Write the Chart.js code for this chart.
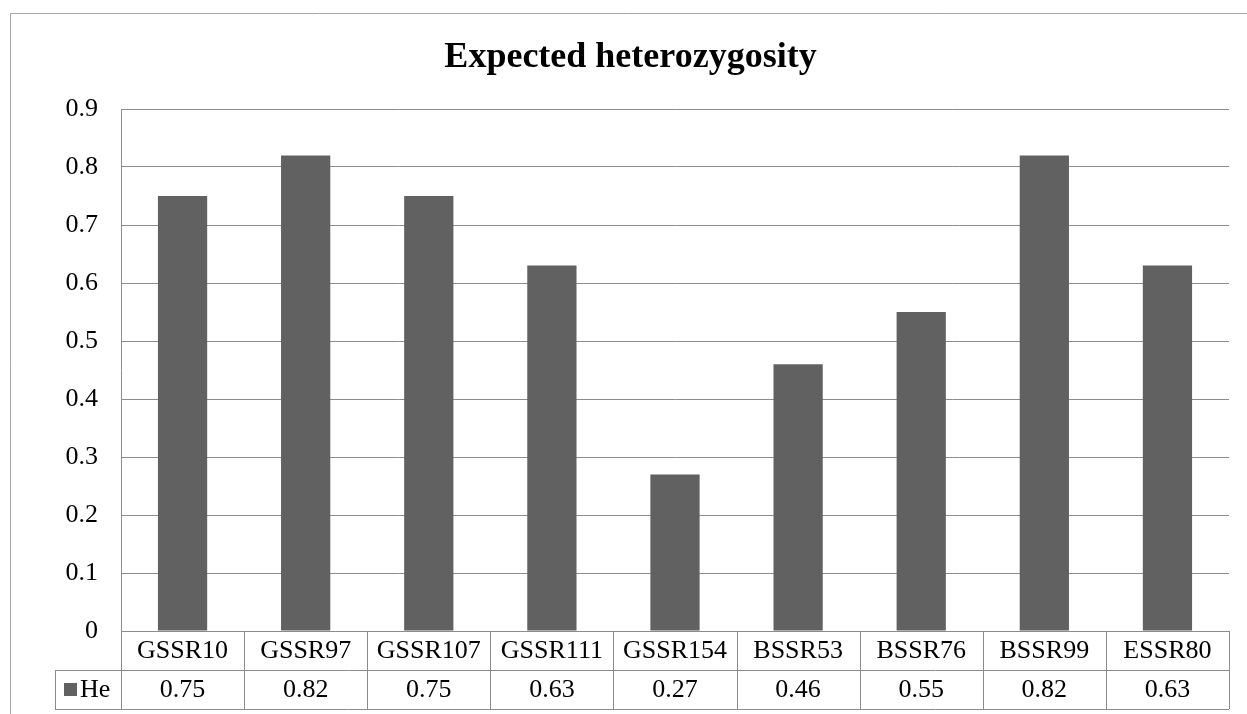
<!DOCTYPE html>
<html>
<head>
<meta charset="utf-8">
<script src="https://cdn.jsdelivr.net/npm/chart.js@4"></script>
<style>
  html, body { margin: 0; padding: 0; background: #fff; }
  #wrap { width: 1247px; height: 714px; position: relative; }
</style>
</head>
<body>
<div id="wrap"><canvas id="grafica"></canvas></div>
<script>
const categories = ['GSSR10', 'GSSR97', 'GSSR107', 'GSSR111', 'GSSR154', 'BSSR53', 'BSSR76', 'BSSR99', 'ESSR80'];
const heValues = [0.75, 0.82, 0.75, 0.63, 0.27, 0.46, 0.55, 0.82, 0.63];
const heLabels = ['0.75', '0.82', '0.75', '0.63', '0.27', '0.46', '0.55', '0.82', '0.63'];
const seriesName = 'He';
const chartTitle = 'Expected heterozygosity';

const serif = '"Liberation Serif", "Times New Roman", serif';
const lineGray = '#8c8c8c';
const barGray = '#616161';

// border, title and the data table under the plot
const tablaPlugin = {
  id: 'tabla',
  afterDraw(chart) {
    const { ctx, chartArea, scales } = chart;
    const x = scales.x;
    const n = categories.length;
    const colW = (chartArea.right - chartArea.left) / n;
    const top = chartArea.bottom;
    const row1 = top + 39;
    const row2 = top + 78;
    const legendLeft = 55;

    ctx.save();
    // outer frame
    ctx.strokeStyle = '#a6a6a6';
    ctx.lineWidth = 1;
    ctx.beginPath();
    ctx.moveTo(10.5, 714);
    ctx.lineTo(10.5, 13.5);
    ctx.lineTo(1247, 13.5);
    ctx.stroke();

    // title
    ctx.fillStyle = '#000';
    ctx.font = 'bold 36px ' + serif;
    ctx.textAlign = 'center';
    ctx.textBaseline = 'alphabetic';
    ctx.fillText(chartTitle, chart.width / 2 + 7, 67);

    // table lines
    ctx.strokeStyle = lineGray;
    ctx.beginPath();
    ctx.moveTo(chartArea.left, top + 0.5);
    ctx.lineTo(chartArea.right, top + 0.5);
    ctx.moveTo(legendLeft, row1 + 0.5);
    ctx.lineTo(chartArea.right, row1 + 0.5);
    ctx.moveTo(legendLeft, row2 + 0.5);
    ctx.lineTo(chartArea.right, row2 + 0.5);
    ctx.moveTo(legendLeft + 0.5, row1);
    ctx.lineTo(legendLeft + 0.5, row2);
    for (let i = 0; i <= n; i++) {
      const px = Math.round(chartArea.left + i * colW) + 0.5;
      ctx.moveTo(px, top);
      ctx.lineTo(px, row2);
    }
    ctx.stroke();

    // text in the table
    ctx.font = '26px ' + serif;
    ctx.textBaseline = 'middle';
    ctx.textAlign = 'center';
    categories.forEach((c, i) => {
      const cx = x.getPixelForValue(i);
      ctx.fillText(c, cx, (top + row1) / 2 + 1);
      ctx.fillText(heLabels[i], cx, (row1 + row2) / 2 + 1);
    });

    // legend key
    ctx.fillStyle = barGray;
    ctx.fillRect(64, row1 + 13, 13, 13);
    ctx.fillStyle = '#000';
    ctx.textAlign = 'left';
    ctx.fillText(seriesName, 80, (row1 + row2) / 2 + 1);
    ctx.restore();
  }
};

const ctx = document.getElementById('grafica').getContext('2d');

new Chart(ctx, {
  type: 'bar',
  data: {
    labels: categories,
    datasets: [
      {
        label: seriesName,
        data: heValues,
        backgroundColor: barGray,
        categoryPercentage: 0.4,
        barPercentage: 1.0
      }
    ]
  },
  options: {
    responsive: true,
    maintainAspectRatio: false,
    animation: false,
    layout: { padding: { left: 0, right: 18, top: 109, bottom: 83 } },
    plugins: {
      legend: { display: false },
      title: { display: false },
      tooltip: { enabled: false }
    },
    scales: {
      x: {
        display: false
      },
      y: {
        min: 0,
        max: 0.9,
        afterFit(scale) { scale.width = 121; },
        border: { display: true, color: lineGray },
        grid: { color: lineGray, drawTicks: false },
        ticks: {
          stepSize: 0.1,
          padding: 23,
          color: '#000',
          font: { family: serif, size: 26 },
          callback: v => Math.round(v * 10) / 10
        }
      }
    }
  },
  plugins: [tablaPlugin]
});
</script>
</body>
</html>
